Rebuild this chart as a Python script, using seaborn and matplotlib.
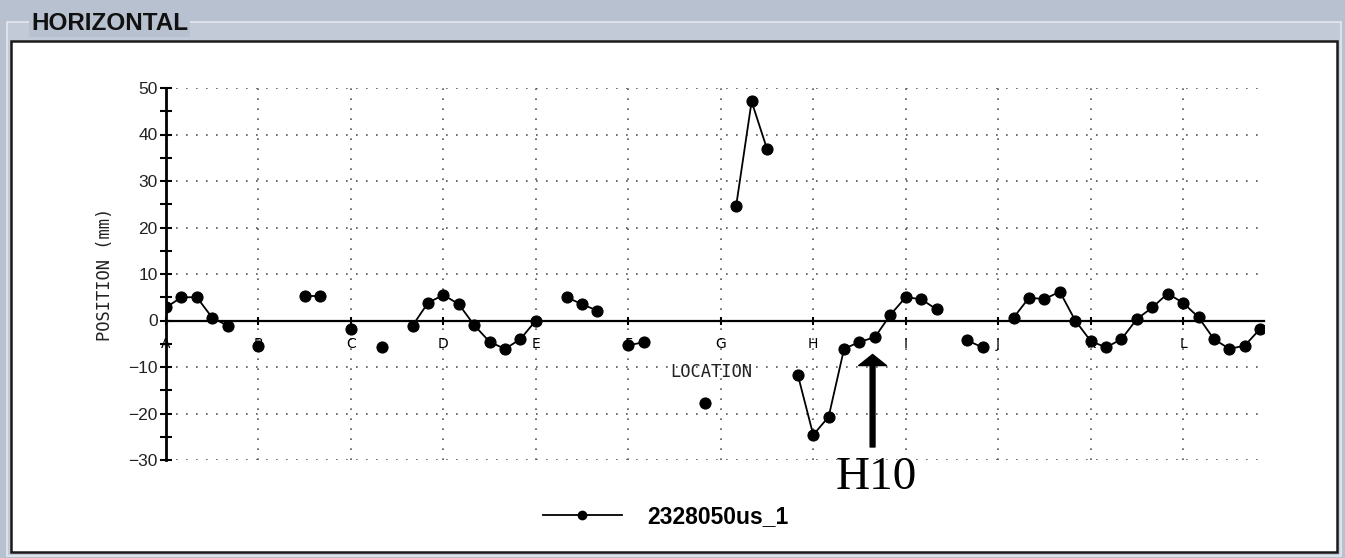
import numpy as np
import pandas as pd
import matplotlib
matplotlib.use("Agg")
import matplotlib.pyplot as plt
from matplotlib.patches import Rectangle
from matplotlib.lines import Line2D
from matplotlib.ticker import MultipleLocator
import seaborn as sns

# ---- data ----
locations = ["A", "B", "C", "D", "E", "F", "G", "H", "I", "J", "K", "L"]
points_per_location = 6
positions_mm = [
    2.8, 5.0, 5.0, 0.6, -1.1, None,          # A
    -5.5, None, None, 5.3, 5.3, None,        # B
    -1.8, None, -5.8, None, -1.1, 3.8,       # C
    5.5, 3.5, -1.0, -4.6, -6.1, -4.0,        # D
    0.0, None, 5.0, 3.5, 2.1, None,          # E
    -5.3, -4.7, None, None, None, -17.8,     # F
    None, 24.7, 47.1, 36.9, None, -11.7,     # G
    -24.6, -20.7, -6.1, -4.6, -3.6, 1.2,     # H
    5.0, 4.6, 2.4, None, -4.3, -5.8,         # I
    None, 0.6, 4.9, 4.6, 6.2, 0.0,           # J
    -4.4, -5.8, -4.0, 0.3, 2.8, 5.8,         # K
    3.8, 0.7, -4.0, -6.1, -5.4, -1.8,        # L
]
series_name = "2328050us_1"
y_ticks = [-30, -20, -10, 0, 10, 20, 30, 40, 50]

# ---- build frame (segments split at gaps) ----
idx = np.arange(len(positions_mm))
seg, cur, prev_nan = [], 0, False
for v in positions_mm:
    if v is None:
        prev_nan = True
        seg.append(np.nan)
    else:
        if prev_nan:
            cur += 1
        prev_nan = False
        seg.append(cur)
df = pd.DataFrame({"x": idx, "y": [np.nan if v is None else v for v in positions_mm], "seg": seg}).dropna()

W, H = 1345, 558
fig = plt.figure(figsize=(W / 100, H / 100), dpi=100)
fig.patch.set_facecolor("#b8c1d0")

def fx(px):
    return px / W

def fy(py):
    return 1 - py / H

# group box line and white panel
fig.add_artist(Rectangle((fx(7), fy(556)), fx(1341 - 7), (556 - 22) / H, transform=fig.transFigure,
                         facecolor="#c3cad7", edgecolor="#e4e8ee", lw=1.2, zorder=-6))
fig.add_artist(Rectangle((fx(11), fy(552)), fx(1337 - 11), (552 - 41) / H, transform=fig.transFigure,
                         facecolor="white", edgecolor="#1a1a1a", lw=1.8, zorder=-5))
fig.text(fx(31), fy(23), "HORIZONTAL", fontsize=17.5, fontweight="bold", family="Liberation Sans",
         color="#111111", va="center", ha="left",
         bbox=dict(facecolor="#b8c1d0", edgecolor="none", pad=1.5))

ax = fig.add_axes([fx(166), fy(460), fx(1264 - 166), (460 - 88) / H])
ax.set_facecolor("none")

sns.lineplot(data=df, x="x", y="y", units="seg", estimator=None, color="black", lw=1.3,
             marker="o", markersize=8, markeredgecolor="black", markerfacecolor="black",
             ax=ax, legend=False, sort=False)

ax.set_xlim(0, 71.25)
ax.set_ylim(-30, 50)
ax.set_yticks(y_ticks)
ax.yaxis.set_minor_locator(MultipleLocator(5))
ax.set_xticks([i * points_per_location for i in range(len(locations))])
ax.set_xticklabels(locations, family="DejaVu Sans Mono", fontsize=13, fontweight="bold", color="#222222")
for lab in ax.get_yticklabels():
    lab.set_family("Liberation Sans")
    lab.set_fontsize(12.5)
    lab.set_color("#222222")

ax.grid(True, which="major", color="#555555", linestyle=(0, (1, 5)), lw=1.2)
for s in ["top", "right"]:
    ax.spines[s].set_visible(False)
ax.spines["bottom"].set_position(("data", 0))
ax.spines["bottom"].set_linewidth(1.6)
ax.spines["left"].set_linewidth(2.0)
ax.tick_params(axis="y", which="both", direction="inout", length=8, width=1.5, pad=2)
ax.tick_params(axis="x", which="both", direction="inout", length=6, width=1.5, pad=9)

ax.set_xlabel("")
ax.set_ylabel("POSITION (mm)", family="DejaVu Sans Mono", fontsize=12.3, color="#222222", labelpad=10)
ax.text(35.4, -11.1, "LOCATION", family="DejaVu Sans Mono", fontsize=12.3, color="#222222",
        ha="center", va="center")

# H10 annotation
ax.annotate("", xy=(45.85, -7.3), xytext=(45.85, -27.2),
            arrowprops=dict(facecolor="black", edgecolor="black", width=3.5, headwidth=20,
                            headlength=8, shrink=0), annotation_clip=False)
ax.text(46.1, -33.9, "H10", family="Liberation Serif", fontsize=34, color="black",
        ha="center", va="center", clip_on=False)

handle = Line2D([0], [0], color="black", lw=1.3, marker="o", markersize=6)
fig.legend(handles=[handle], labels=[series_name], loc="center left",
           bbox_to_anchor=(fx(522), fy(517)), frameon=False, handlelength=3.45,
           handletextpad=1.1, prop=dict(family="Liberation Sans", size=16.5, weight="bold"))

fig.savefig("out.png", dpi=100, facecolor=fig.get_facecolor())
